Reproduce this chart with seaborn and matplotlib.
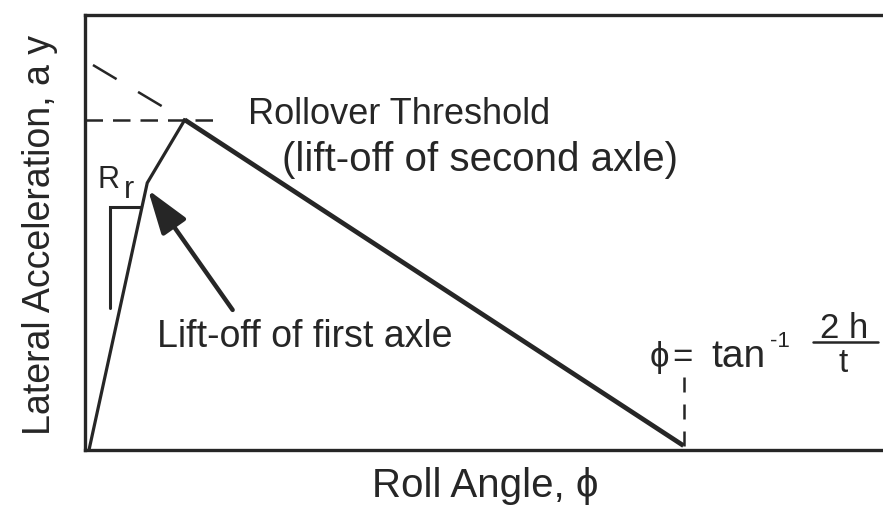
import matplotlib
matplotlib.use("Agg")
import matplotlib.pyplot as plt
import seaborn as sns
import pandas as pd

# Roll response of a vehicle: lateral acceleration vs. roll angle (arbitrary units)
roll_angle = [0.5, 7.8, 12.5, 75.0]
lateral_accel = [0.0, 61.4, 75.9, 1.0]

# Construction lines
threshold_x = [0.0, 16.9]            # horizontal dashed line at the rollover threshold
extension_x = [1.0, 12.5]            # backward extension of the unloading branch
extension_y = [88.5, 75.9]
tipover_y = [1.0, 17.7]              # vertical dashed marker at the tip-over angle
slope_x = [3.1, 3.1, 6.9]            # roll-rate slope bracket
slope_y = [32.6, 55.9, 55.9]
arrow_tail = (18.5, 32.2)
arrow_tip = (7.9, 59.8)

sns.set_theme(style="white")
plt.rcParams["font.family"] = ["Liberation Sans", "DejaVu Sans"]

INK = "#262626"

fig = plt.figure(figsize=(8.83, 5.09), dpi=100)
ax = fig.add_axes([85 / 883, 59 / 509, (883 - 85) / 883, 435 / 509])

loading = pd.DataFrame({"phi": roll_angle[:3], "ay": lateral_accel[:3]})
unloading = pd.DataFrame({"phi": roll_angle[2:], "ay": lateral_accel[2:]})
sns.lineplot(data=loading, x="phi", y="ay", sort=False, color=INK, lw=2.3, ax=ax)
sns.lineplot(data=unloading, x="phi", y="ay", sort=False, color=INK, lw=3.4, ax=ax,
             solid_capstyle="butt")

peak = lateral_accel[2]
ax.plot(threshold_x, [peak, peak], color=INK, lw=1.8, dashes=(7, 4))
ax.plot(extension_x, extension_y, color=INK, lw=1.8, dashes=(11, 10))
ax.plot([roll_angle[3], roll_angle[3]], tipover_y, color=INK, lw=1.8, dashes=(6, 4.8))
ax.plot(slope_x, slope_y, color=INK, lw=2.2, solid_joinstyle="miter")

ax.annotate("", xy=arrow_tip, xytext=arrow_tail,
            arrowprops=dict(arrowstyle="-|>,head_length=1.35,head_width=0.45",
                            mutation_scale=20, lw=3.2, color=INK,
                            shrinkA=0, shrinkB=0))

ax.set_xlim(0, 100)
ax.set_ylim(0, 100)
ax.set_xticks([])
ax.set_yticks([])
for side in ["left", "bottom", "top"]:
    ax.spines[side].set_color(INK)
    ax.spines[side].set_linewidth(2.4)
ax.spines["right"].set_visible(False)

ax.set_xlabel("Roll Angle, \u03d5", fontsize=29, color=INK)
ax.xaxis.set_label_coords(0.501, -0.108)
ax.xaxis.label.set_va("baseline")
ax.set_ylabel("Lateral Acceleration, a y", fontsize=27, color=INK)
ax.yaxis.set_label_coords(-0.034, 0.495)

txt = dict(color=INK, va="baseline", ha="left", transform=ax.transData, clip_on=False)
ax.text(20.4, 74.9, "Rollover Threshold", fontsize=26, **txt)
ax.text(24.7, 64.1, "(lift-off of second axle)", fontsize=29, **txt)
ax.text(9.0, 23.7, "Lift-off of first axle", fontsize=27, **txt)
ax.text(1.6, 60.2, "R", fontsize=22, **txt)
ax.text(4.9, 57.9, "r", fontsize=22, **txt)

# tip-over angle formula
ax.text(70.8, 19.1, "\u03d5", fontsize=25, **txt)
ax.text(73.6, 19.1, "=", fontsize=25, **txt)
ax.text(78.5, 19.1, "tan", fontsize=28, **txt)
ax.text(85.9, 23.6, "-1", fontsize=16, **txt)
ax.text(95.1, 25.7, "2 h", fontsize=25, color=INK, va="baseline", ha="center", transform=ax.transData)
ax.text(95.0, 17.9, "t", fontsize=24, color=INK, va="baseline", ha="center", transform=ax.transData)
ax.plot([91.2, 99.4], [24.8, 24.8], color=INK, lw=1.8, clip_on=False)

fig.savefig("out.png", dpi=100, facecolor="white")
